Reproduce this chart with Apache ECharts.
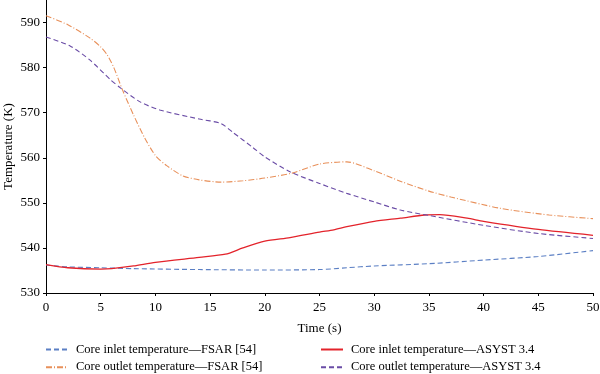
<!DOCTYPE html>
<html>
<head>
<meta charset="utf-8">
<script src="https://cdn.jsdelivr.net/npm/echarts@6/dist/echarts.min.js"></script>
<style>html,body{margin:0;padding:0;background:#fff}#c{width:600px;height:374px}</style>
</head>
<body>
<div id="c"></div>
<script>
const seriesNames = [
  'Core inlet temperature\u2014FSAR [54]',
  'Core outlet temperature\u2014FSAR [54]',
  'Core inlet temperature\u2014ASYST 3.4',
  'Core outlet temperature\u2014ASYST 3.4'
];
const xTicks = [0,5,10,15,20,25,30,35,40,45,50];
const yTicks = [530,540,550,560,570,580,590];

const inletFSAR = [[0,536.2],[2,535.8],[5,535.6],[8,535.4],[14,535.2],[20,535.1],[25,535.2],[27.5,535.6],[30,536.0],[35,536.5],[40,537.3],[45,538.1],[50,539.4]];
const outletFSAR = [[0,591.5],[2,589.5],[4,586.6],[5,584.6],[5.6,582.8],[6.2,580],[7,575],[8,569.5],[9,564.5],[10,560.5],[11,558.3],[12.5,556],[14,555.1],[16,554.6],[18,554.9],[20,555.5],[22.5,556.6],[25,558.6],[27.5,559.1],[30,557.1],[32.5,554.7],[35,552.6],[37,551.3],[41.5,548.8],[46,547.3],[50,546.5]];
const inletASYST = [[0,536.3],[2,535.6],[5,535.3],[6,535.4],[8,536.0],[10,536.8],[14,537.9],[16.4,538.6],[18,540.0],[20,541.5],[22.3,542.3],[25,543.5],[26.3,544.0],[27.5,544.7],[30,545.9],[32.4,546.6],[34.6,547.3],[36,547.4],[38.5,546.6],[40,545.9],[45,544.1],[50,542.8]];
const outletASYST = [[0,586.8],[2.2,584.8],[4,581.7],[5.9,577.3],[6.8,575.5],[8.6,572.4],[10.4,570.6],[14,568.6],[16,567.6],[17.1,565.6],[18.9,562.3],[20,560.2],[22.3,556.9],[25,554.3],[27.5,552.1],[30,550.2],[32.4,548.4],[35,547.2],[40,545.0],[45,543.2],[50,542.1]];

const serif = 'Liberation Serif';
const chart = echarts.init(document.getElementById('c'));
const mk = (name, data, color, type, w) => ({
  name, type: 'line', data, symbol: 'none', smooth: 0.25,
  lineStyle: { color, width: w, type },
  itemStyle: { color }
});
const legendBase = {
  orient: 'vertical', top: 343, padding: 0,
  itemWidth: 22, itemHeight: 12, itemGap: 4.7,
  itemStyle: { opacity: 0 },
  textStyle: { fontFamily: serif, fontSize: 12.5, color: '#000', padding: [0,0,0,3] }
};
chart.setOption({
  animation: false,
  backgroundColor: '#fff',
  textStyle: { fontFamily: serif, color: '#000' },
  grid: { left: 46, right: 7, top: 0, bottom: 81, containLabel: false, outerBoundsMode: 'none' },
  xAxis: {
    type: 'value', min: 0, max: 50, interval: 5,
    name: 'Time (s)', nameLocation: 'middle', nameGap: 29, nameMoveOverlap: false,
    nameTextStyle: { fontFamily: serif, fontSize: 13, color: '#000' },
    axisLine: { lineStyle: { color: '#000', width: 1 } },
    axisTick: { length: 3, lineStyle: { color: '#000' }, customValues: xTicks },
    axisLabel: { fontFamily: serif, fontSize: 13, color: '#000', margin: 8, customValues: xTicks },
    splitLine: { show: false }
  },
  yAxis: {
    type: 'value', min: 530, max: 595, interval: 10,
    name: 'Temperature (K)', nameLocation: 'middle', nameGap: 31, nameMoveOverlap: false,
    nameTextStyle: { fontFamily: serif, fontSize: 13, color: '#000' },
    axisLine: { show: true, lineStyle: { color: '#000', width: 1 } },
    axisTick: { show: true, length: 3, lineStyle: { color: '#000' }, customValues: yTicks },
    axisLabel: { fontFamily: serif, fontSize: 13, color: '#000', margin: 6, customValues: yTicks },
    splitLine: { show: false }
  },
  legend: [
    Object.assign({}, legendBase, { data: [seriesNames[0], seriesNames[1]], left: 45 }),
    Object.assign({}, legendBase, { data: [seriesNames[2], seriesNames[3]], left: 320 })
  ],
  series: [
    mk(seriesNames[0], inletFSAR, '#5b7fc4', [5,3], 1.1),
    mk(seriesNames[1], outletFSAR, '#e8905a', [6,2,1,2], 1.1),
    mk(seriesNames[2], inletASYST, '#e3232b', 'solid', 1.3),
    mk(seriesNames[3], outletASYST, '#6a4ca6', [5,3], 1.1)
  ]
});
</script>
</body>
</html>
